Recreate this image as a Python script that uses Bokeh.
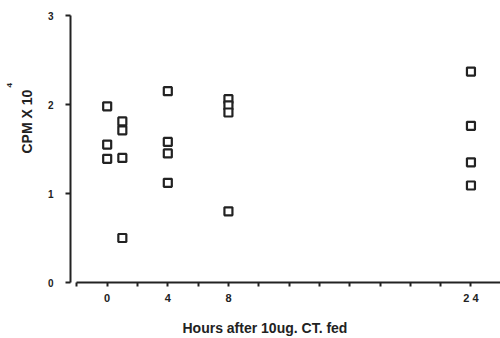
from bokeh.plotting import figure
from bokeh.models import Range1d, FixedTicker, Title
from bokeh.embed import file_html
from bokeh.resources import INLINE

# Data (hours after feeding, CPM x 10^4)
hours_0 = [0, 0, 0]
cpm_0 = [1.98, 1.55, 1.39]
hours_1 = [1, 1, 1, 1]
cpm_1 = [1.81, 1.71, 1.40, 0.50]
hours_4 = [4, 4, 4, 4]
cpm_4 = [2.15, 1.58, 1.45, 1.12]
hours_8 = [8, 8, 8, 8]
cpm_8 = [2.06, 1.99, 1.91, 0.80]
hours_24 = [24, 24, 24, 24]
cpm_24 = [2.37, 1.76, 1.35, 1.09]

x_ticks = [-2, 0, 2, 4, 6, 8, 10, 12, 14, 16, 18, 20, 22, 24, 26]
x_tick_labels = {0: "0", 4: "4", 8: "8", 24: "2 4"}
y_ticks = [0, 1, 2, 3]

x_all = hours_0 + hours_1 + hours_4 + hours_8 + hours_24
y_all = cpm_0 + cpm_1 + cpm_4 + cpm_8 + cpm_24

FONT = "Liberation Sans"
INK = "#222222"

p = figure(width=500, height=338, output_backend="svg", toolbar_location=None,
           x_range=Range1d(-2.42, 25.95), y_range=Range1d(0, 3),
           min_border_left=70, min_border_right=0, min_border_top=15,
           min_border_bottom=56)
p.outline_line_color = None
p.grid.visible = False
p.background_fill_color = "white"
p.border_fill_color = "white"

p.scatter(x_all, y_all, marker="square", size=8, fill_color="white",
          line_color=INK, line_width=2.2)

xa = p.xaxis[0]
xa.ticker = FixedTicker(ticks=x_ticks)
xa.major_label_overrides = {t: x_tick_labels.get(t, "") for t in x_ticks}
xa.bounds = (-2, 26)
xa.minor_tick_line_color = None
xa.major_tick_in = 0
xa.major_tick_out = 4
xa.major_label_standoff = 5
xa.axis_line_width = 2
xa.major_tick_line_width = 2
xa.axis_line_color = INK
xa.major_tick_line_color = INK
xa.major_label_text_font = FONT
xa.major_label_text_font_style = "bold"
xa.major_label_text_font_size = "11px"
xa.major_label_text_color = INK

ya = p.yaxis[0]
ya.ticker = FixedTicker(ticks=y_ticks)
ya.minor_tick_line_color = None
ya.major_tick_in = 0
ya.major_tick_out = 5
ya.major_label_standoff = 12
ya.axis_line_width = 2
ya.major_tick_line_width = 2
ya.axis_line_color = INK
ya.major_tick_line_color = INK
ya.major_label_text_font = FONT
ya.major_label_text_font_style = "bold"
ya.major_label_text_font_size = "10px"
ya.major_label_text_color = INK

x_title = Title(text="Hours after 10ug. CT. fed", align="left", offset=112,
                text_font=FONT, text_font_style="bold", text_font_size="14px",
                text_color=INK, standoff=0,
                padding=dict(left=0, right=0, top=11, bottom=0))
p.add_layout(x_title, "below")

y_title = Title(text="CPM X 10", align="left", offset=129, vertical_align="top",
                text_font=FONT, text_font_style="bold", text_font_size="14px",
                text_color=INK, standoff=15)
p.add_layout(y_title, "left")

y_power = Title(text="4", align="left", offset=195,
                text_font=FONT, text_font_style="bold", text_font_size="8px",
                text_color=INK, standoff=0)
p.add_layout(y_power, "left")

open("out.html", "w").write(file_html(p, INLINE))
